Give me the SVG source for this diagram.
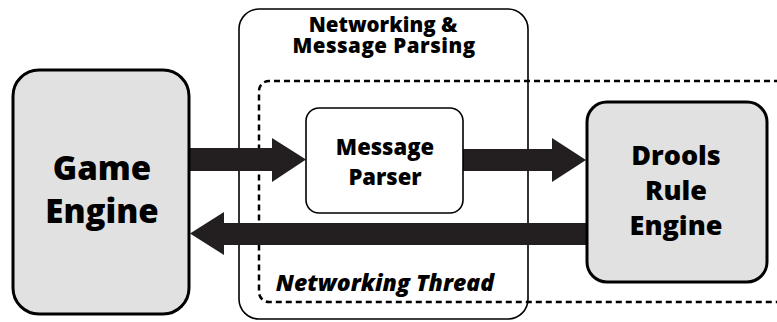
<svg xmlns="http://www.w3.org/2000/svg" width="777" height="322" viewBox="0 0 777 322">
<style>
.t{font-family:"Open Sans","Liberation Sans",sans-serif;font-weight:800;fill:#000;text-anchor:middle}
.gray{fill:#e1e1e1;stroke:#000;stroke-width:3}
.arrow{fill:#231f20}
</style>
<rect width="777" height="322" fill="#fff"/>
<g id="networking">
<rect x="239" y="9" width="289" height="310" rx="20" fill="#fff" stroke="#000" stroke-width="1.6"/>
<text class="t" x="383" y="32" font-size="20.5">Networking &amp;</text>
<text class="t" x="384" y="53" font-size="20.5" letter-spacing="0.5">Message Parsing</text>
</g>
<g id="thread">
<path d="M780,81 H269 A10,10 0 0 0 259,91 V292 A10,10 0 0 0 269,302 H780" fill="none" stroke="#000" stroke-width="2.5" stroke-dasharray="6,4"/>
<text class="t" x="385" y="291" font-size="23" font-style="italic">Networking Thread</text>
</g>
<g id="connectors">
<polygon class="arrow" points="188,148 272,148 272,138 306,159.5 272,182 272,171 188,171"/>
<polygon class="arrow" points="463,149 552,149 552,138 586,160 552,182 552,171 463,171"/>
<polygon class="arrow" points="587,223 224,223 224,212 190,233.5 224,255 224,245 587,245"/>
</g>
<g id="game-engine">
<rect class="gray" x="13" y="70" width="176" height="244" rx="26"/>
<text class="t" x="102" y="180" font-size="33">Game</text>
<text class="t" x="102" y="223" font-size="33">Engine</text>
</g>
<g id="message-parser">
<rect x="306" y="108" width="157" height="105" rx="13" fill="#fff" stroke="#000" stroke-width="1.6"/>
<text class="t" x="385" y="155" font-size="22">Message</text>
<text class="t" x="385" y="185" font-size="22">Parser</text>
</g>
<g id="drools">
<rect class="gray" x="587" y="102" width="180" height="180" rx="20"/>
<text class="t" x="676" y="165" font-size="27">Drools</text>
<text class="t" x="676" y="200" font-size="27">Rule</text>
<text class="t" x="676" y="235" font-size="27">Engine</text>
</g>
</svg>
